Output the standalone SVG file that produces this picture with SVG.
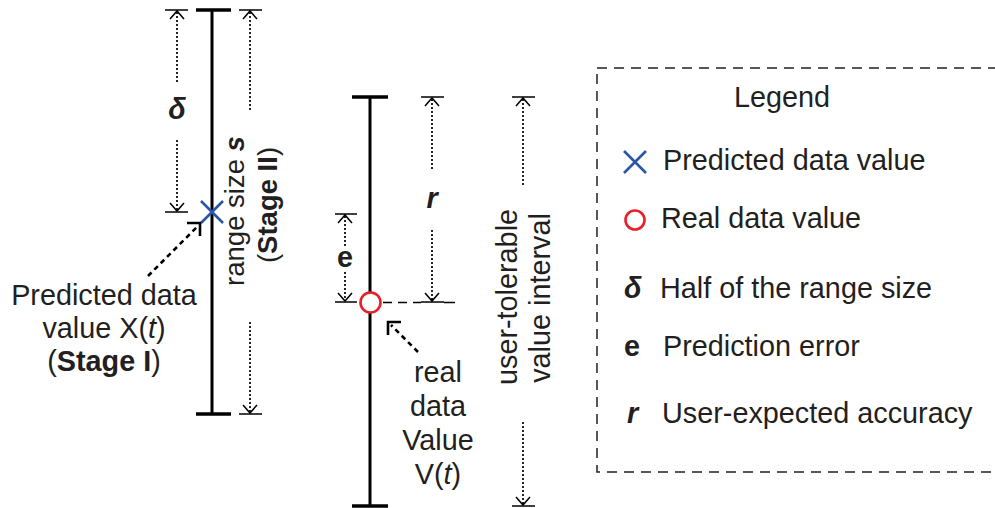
<svg xmlns="http://www.w3.org/2000/svg" width="995" height="508" viewBox="0 0 995 508">
  <defs>
    <style>
      text { font-family: "Liberation Sans", Arial, sans-serif; font-size: 28.8px; fill: #231f20; }
      .b { font-weight: bold; }
      .bi { font-weight: bold; font-style: italic; }
      .i { font-style: italic; }
      .mid { text-anchor: middle; }
      .bar { stroke: #000; stroke-width: 3; fill: none; }
      .cap { stroke: #000; stroke-width: 3.5; fill: none; }
      .tick { stroke: #000; stroke-width: 1.5; fill: none; }
      .dot { stroke: #000; stroke-width: 1.7; stroke-dasharray: 2 2; fill: none; }
      .head { stroke: #000; stroke-width: 1.5; fill: none; }
      .lead { stroke: #000; stroke-width: 2.6; stroke-dasharray: 5 4; fill: none; }
      .lhead { stroke: #000; stroke-width: 2.6; fill: none; }
      .pred { stroke: #2a55a8; stroke-width: 2.6; fill: none; }
      .real { stroke: #e8202a; stroke-width: 2.6; fill: #fff; }
    </style>
  </defs>

  <!-- Stage II range bar -->
  <g id="range-bar">
    <line class="bar" x1="212" y1="10" x2="212" y2="414"/>
    <line class="cap" x1="196" y1="10" x2="231" y2="10"/>
    <line class="cap" x1="196" y1="414" x2="231" y2="414"/>
  </g>

  <!-- predicted value marker on the range bar -->
  <g id="predicted-marker">
    <path class="pred" d="M201 201 L223 223 M223 201 L201 223"/>
  </g>

  <!-- half-range dimension (delta) -->
  <g id="delta-dimension">
    <line class="tick" x1="165" y1="10" x2="188" y2="10"/>
    <line class="tick" x1="165" y1="212" x2="188" y2="212"/>
    <line class="dot" x1="177" y1="12" x2="177" y2="82"/>
    <line class="dot" x1="177" y1="140" x2="177" y2="210"/>
    <path class="head" d="M170 19 L177 11 L184 19"/>
    <path class="head" d="M170 203 L177 211 L184 203"/>
    <text class="bi mid" x="177" y="119">δ</text>
  </g>

  <!-- full range size dimension -->
  <g id="range-dimension">
    <line class="tick" x1="239" y1="10" x2="262" y2="10"/>
    <line class="tick" x1="239" y1="414" x2="262" y2="414"/>
    <line class="dot" x1="250" y1="12" x2="250" y2="112"/>
    <line class="dot" x1="250" y1="322" x2="250" y2="412"/>
    <path class="head" d="M243 19 L250 11 L257 19"/>
    <path class="head" d="M243 405 L250 413 L257 405"/>
    <text class="mid" transform="translate(244 211) rotate(-90)" style="font-size:27.5px">range size <tspan class="bi">s</tspan></text>
    <text class="mid" transform="translate(277 205) rotate(-90)" style="font-size:27.5px">(<tspan class="b">Stage II</tspan>)</text>
  </g>

  <!-- Stage I label -->
  <g id="predicted-label">
    <text class="mid" x="104" y="305">Predicted data</text>
    <text class="mid" x="104" y="338">value X(<tspan class="i">t</tspan>)</text>
    <text class="mid" x="104" y="371">(<tspan class="b">Stage I</tspan>)</text>
  </g>

  <!-- actual value bar -->
  <g id="value-bar">
    <line class="bar" x1="370" y1="97" x2="370" y2="506"/>
    <line class="cap" x1="352" y1="97" x2="388" y2="97"/>
    <line class="cap" x1="352" y1="506" x2="388" y2="506"/>
  </g>

  <!-- prediction error dimension -->
  <g id="error-dimension">
    <line class="tick" x1="335" y1="214" x2="357" y2="214"/>
    <line class="tick" x1="335" y1="302" x2="357" y2="302"/>
    <line class="dot" x1="345" y1="216" x2="345" y2="246"/>
    <line class="dot" x1="345" y1="272" x2="345" y2="300"/>
    <path class="head" d="M338 223 L345 215 L352 223"/>
    <path class="head" d="M338 293 L345 301 L352 293"/>
    <text class="b mid" x="345" y="267">e</text>
  </g>

  <!-- user-expected accuracy dimension -->
  <g id="accuracy-dimension">
    <line class="tick" x1="421" y1="97" x2="444" y2="97"/>
    <line class="tick" x1="421" y1="302" x2="444" y2="302"/>
    <line class="dot" x1="432" y1="99" x2="432" y2="171"/>
    <line class="dot" x1="432" y1="230" x2="432" y2="300"/>
    <path class="head" d="M425 106 L432 98 L439 106"/>
    <path class="head" d="M425 293 L432 301 L439 293"/>
    <text class="bi mid" x="432" y="208">r</text>
  </g>

  <!-- tolerable interval dimension -->
  <g id="interval-dimension">
    <line class="tick" x1="512" y1="97" x2="535" y2="97"/>
    <line class="tick" x1="512" y1="506" x2="535" y2="506"/>
    <line class="dot" x1="523" y1="99" x2="523" y2="187"/>
    <line class="dot" x1="523" y1="422" x2="523" y2="504"/>
    <path class="head" d="M516 106 L523 98 L530 106"/>
    <path class="head" d="M516 497 L523 505 L530 497"/>
    <text class="mid" transform="translate(517 297) rotate(-90)">user-tolerable</text>
    <text class="mid" transform="translate(550 298) rotate(-90)">value interval</text>
  </g>

  <!-- real value marker -->
  <g id="real-marker">
    <circle class="real" cx="370.5" cy="302.5" r="10"/>
  </g>

  <!-- real value label -->
  <g id="real-label">
    <text class="mid" x="438" y="382">real</text>
    <text class="mid" x="438" y="416">data</text>
    <text class="mid" x="438" y="450">Value</text>
    <text class="mid" x="438" y="484">V(<tspan class="i">t</tspan>)</text>
  </g>

  <!-- leader lines -->
  <g id="connectors">
    <line class="lead" x1="148" y1="276" x2="198" y2="226"/>
    <path class="lhead" d="M187 223 L200 223 L200 236"/>
    <line class="lead" x1="418" y1="352" x2="391" y2="325"/>
    <path class="lhead" d="M401 322 L388 322 L388 335"/>
    <line stroke="#000" stroke-width="1.5" stroke-dasharray="9 6" x1="383" y1="302.5" x2="421" y2="302.5"/>
    <line stroke="#000" stroke-width="1.5" x1="444" y1="302.5" x2="455" y2="302.5"/>
  </g>

  <!-- legend -->
  <g id="legend">
    <rect x="597" y="68" width="420" height="404" fill="none" stroke="#231f20" stroke-width="1.5" stroke-dasharray="10 7"/>
    <text class="mid" x="782" y="107">Legend</text>
    <path class="pred" d="M624 151 L646 173 M646 151 L624 173"/>
    <text x="663" y="170">Predicted data value</text>
    <circle class="real" cx="635" cy="220" r="9.5"/>
    <text x="661" y="228">Real data value</text>
    <text class="bi" x="624" y="298">δ</text>
    <text x="660" y="298">Half of the range size</text>
    <text class="b" x="624" y="356">e</text>
    <text x="663" y="356">Prediction error</text>
    <text class="bi" x="627" y="423">r</text>
    <text x="662" y="423">User-expected accuracy</text>
  </g>
</svg>
